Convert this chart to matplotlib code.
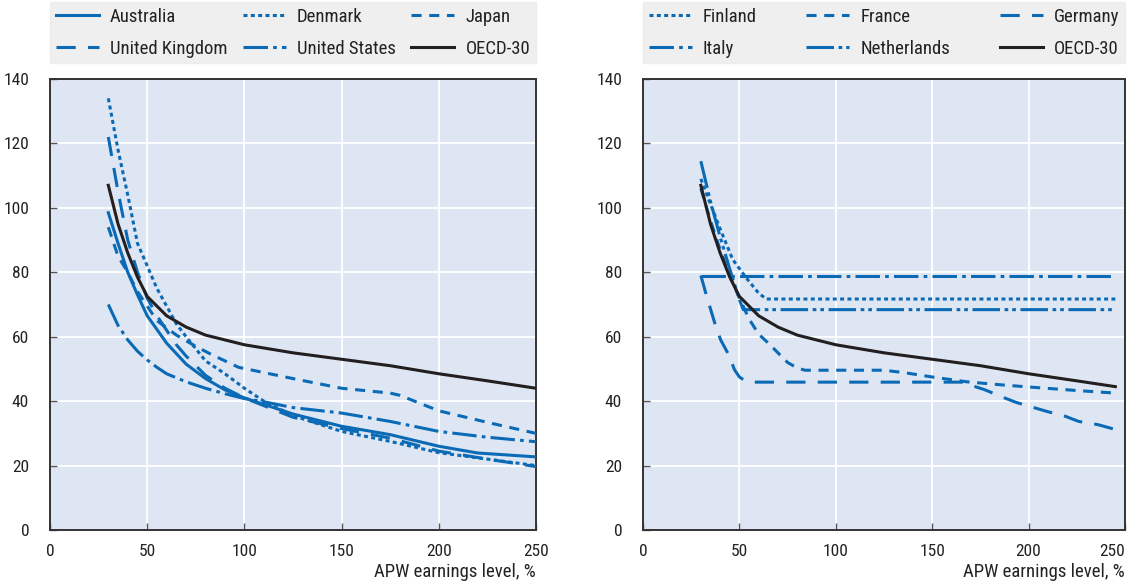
import matplotlib.pyplot as plt
from matplotlib import font_manager

# narrow sans like the original, falling back to DejaVu Sans
installed = {f.name for f in font_manager.fontManager.ttflist}
narrow = [n for n in ['Roboto Condensed', 'Archivo Narrow', 'Liberation Sans Narrow']
          if n in installed]
plt.rcParams['font.family'] = narrow[:1] + ['DejaVu Sans']

BLUE = '#0a6ab5'
BLACK = '#231f20'
AX_BG = '#dfe6f3'
LEG_BG = '#ebebeb'

# ---- left panel ----
oecd_x = [30, 35, 40, 45, 50, 60, 70, 80, 90, 100, 125, 150, 175, 200, 225, 250]
oecd_y = [107, 95, 86, 78.5, 72.5, 66.5, 63, 60.5, 59, 57.5, 55, 53, 51, 48.5, 46.3, 44]

aus_x = [30, 35, 40, 45, 50, 60, 70, 80, 90, 100, 125, 150, 175, 200, 220, 250]
aus_y = [98.5, 89, 80, 73, 66.5, 58, 51.5, 47, 43.5, 41, 36, 32.2, 29.6, 26, 23.9, 22.7]

den_x = [30, 35, 40, 45, 50, 55, 60, 65, 70, 80, 90, 100, 110, 125, 150, 175, 200, 225, 250]
den_y = [134, 118, 104, 89, 82, 75, 69.5, 64, 60, 52.5, 48.5, 44, 40, 35.5, 30.6, 27.5, 24, 22, 20]

jpn_x = [30, 35, 40, 45, 50, 55, 65, 75, 83, 97, 125, 150, 175, 180, 200, 225, 250]
jpn_y = [94, 85, 80, 74, 69.5, 65, 60.5, 57, 54.5, 50.5, 47, 44, 42.5, 41.8, 37, 33.4, 30]

uk_x = [30, 35, 40, 45, 50, 55, 60, 65, 70, 80, 90, 100, 125, 150, 175, 200, 225, 250]
uk_y = [122, 105, 90, 80, 72, 66.5, 62, 57.5, 54, 48, 44, 41, 35, 31.5, 28.5, 24.5, 22, 19.7]

us_x = [30, 35, 40, 45, 50, 55, 60, 70, 80, 90, 100, 110, 125, 150, 175, 200, 225, 250]
us_y = [70, 63.5, 59, 55.5, 52.8, 50.5, 48.5, 46, 44, 42.3, 40.8, 39.8, 38, 36.3, 33.7, 30.6, 28.8, 27.4]

# ---- right panel ----
oecd2_x = [30, 35, 40, 45, 50, 60, 70, 80, 90, 100, 125, 150, 175, 200, 225, 245]
oecd2_y = [107, 95, 86, 78.5, 72.5, 66.5, 63, 60.5, 59, 57.5, 55, 53, 51, 48.5, 46.3, 44.5]

fin_x = [30, 34, 40, 46.5, 53.5, 60, 64, 245]
fin_y = [109, 102.7, 93.5, 84, 78.3, 73.5, 71.7, 71.7]

fra_x = [30, 35, 40, 45, 50, 55, 60, 65, 70, 75, 80, 84, 125, 136, 150, 168, 185, 200, 225, 245]
fra_y = [106, 96, 87, 79, 72, 65.5, 60.8, 58, 55, 52, 50.3, 49.6, 49.6, 48.8, 47.5, 46, 45.1, 44.4, 43.3, 42.5]

ger_x = [30, 33, 37.7, 40.3, 44.8, 47.4, 50, 53.5, 57, 165, 177, 187.5, 193.6, 203.3, 209.5, 219, 226, 236, 245]
ger_y = [79, 72.6, 63.3, 59, 54, 49.8, 47.5, 46.1, 45.9, 45.9, 43.6, 41, 39.6, 37.9, 36.8, 35.3, 33.7, 32.7, 31.2]

ita_x = [30, 245]
ita_y = [79, 79]

nld_x = [30, 35, 40, 45, 50, 52, 245]
nld_y = [114.5, 102, 91, 81, 71.5, 68.4, 68.4]

# dash patterns (in units of line width)
DOT = (1.3, 1.1)
SHORT = (3.3, 2.5)
LONG = (6.3, 4)
DASHDOT = (8, 1.7, 1.2, 1.7)
DASHDOTDOT = (9, 1.5, 1.2, 1.3, 1.2, 1.5)

left_series = [
    ('Australia', aus_x, aus_y, BLUE, None),
    ('Denmark', den_x, den_y, BLUE, DOT),
    ('Japan', jpn_x, jpn_y, BLUE, SHORT),
    ('United Kingdom', uk_x, uk_y, BLUE, LONG),
    ('United States', us_x, us_y, BLUE, DASHDOT),
    ('OECD-30', oecd_x, oecd_y, BLACK, None),
]
right_series = [
    ('Finland', fin_x, fin_y, BLUE, DOT),
    ('France', fra_x, fra_y, BLUE, SHORT),
    ('Germany', ger_x, ger_y, BLUE, LONG),
    ('Italy', ita_x, ita_y, BLUE, DASHDOT),
    ('Netherlands', nld_x, nld_y, BLUE, DASHDOTDOT),
    ('OECD-30', oecd2_x, oecd2_y, BLACK, None),
]

fig = plt.figure(figsize=(11.33, 5.88), dpi=100)
ax1 = fig.add_axes([50 / 1133, 58 / 588, 486 / 1133, 451 / 588])
ax2 = fig.add_axes([643 / 1133, 58 / 588, 482 / 1133, 451 / 588])

LW = 2.2


def draw(ax, series):
    ax.set_facecolor(AX_BG)
    handles = []
    for name, xs, ys, col, dash in series:
        line, = ax.plot(xs, ys, color=col, lw=LW, solid_joinstyle='round',
                        dash_capstyle='butt', label=name, zorder=3)
        if dash is not None:
            line.set_dashes(dash)
        handles.append(line)
    ax.set_xlim(0, 250)
    ax.set_ylim(0, 140)
    ax.set_xticks([0, 50, 100, 150, 200, 250])
    ax.set_yticks(range(0, 141, 20))
    ax.grid(True, color='white', lw=1.3, zorder=0)
    ax.set_axisbelow(True)
    for s in ax.spines.values():
        s.set_color('#333333')
        s.set_linewidth(1.4)
    ax.tick_params(direction='in', length=5, width=1, color='#555555',
                   labelsize=12.5, labelcolor='#222222', pad=10)
    ax.tick_params(axis='y', pad=15)
    ax.set_xlabel('APW earnings level, %', loc='right', fontsize=13.5,
                  color='#222222', labelpad=3)
    # matplotlib fills legend columns first, so reorder to get row order
    order = [0, 3, 1, 4, 2, 5]
    leg = ax.legend([handles[i] for i in order], [series[i][0] for i in order],
                    ncol=3, loc='lower left', bbox_to_anchor=(0, 1.035, 1, 0.13),
                    mode='expand', frameon=True, fancybox=False, fontsize=13.5,
                    handlelength=2.3, handletextpad=0.6, borderaxespad=0,
                    labelspacing=0.75, borderpad=0.3)
    leg.get_frame().set_facecolor(LEG_BG)
    leg.get_frame().set_edgecolor(LEG_BG)
    for t in leg.get_texts():
        t.set_color('#222222')


draw(ax1, left_series)
draw(ax2, right_series)
ax2.get_xticklabels()[-1].set_ha('right')

fig.savefig('out.png', dpi=100)
